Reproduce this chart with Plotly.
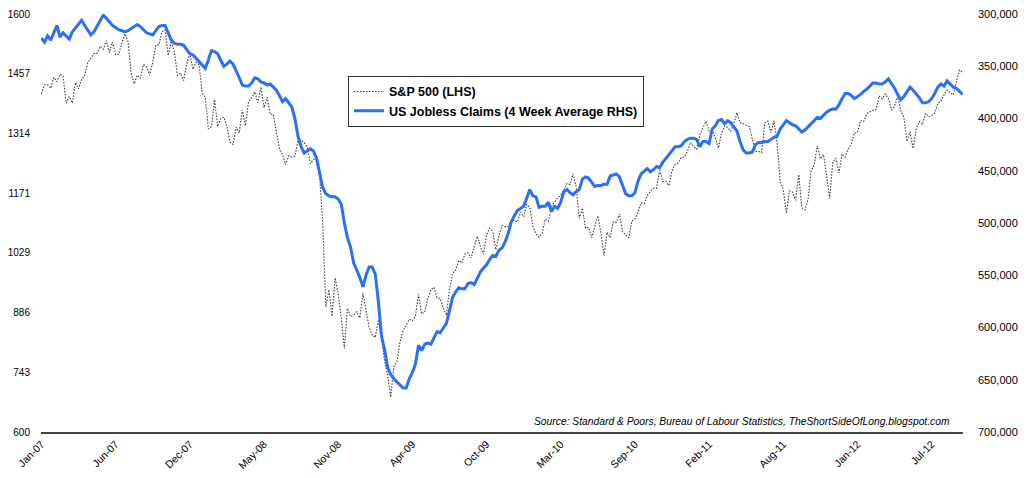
import pandas as pd
import plotly.graph_objects as go

# Weekly dates (Fridays), Jan-2007 .. Sep-2012
dates = pd.date_range("2007-01-05", periods=299, freq="W-FRI")

sp500 = [
    # 2007
    1409.7, 1430.7, 1430.5, 1422.2, 1448.4, 1438.1, 1455.5, 1451.2, 1387.2, 1402.8,
    1387.0, 1436.1, 1420.9, 1443.8, 1452.9, 1484.4, 1494.1, 1505.6, 1505.9, 1522.8,
    1515.7, 1536.3, 1507.7, 1532.9, 1502.6, 1503.4, 1530.4, 1552.5, 1534.1, 1459.0,
    1433.1, 1453.6, 1445.9, 1479.4, 1474.0, 1453.6, 1484.3, 1525.8, 1526.8, 1557.6,
    1561.8, 1500.6, 1535.3, 1509.7, 1453.7, 1458.7, 1440.7, 1481.1, 1504.7, 1468.0,
    1484.5, 1478.5,
    # 2008
    1411.6, 1401.0, 1325.2, 1330.6, 1395.4, 1331.3, 1350.0, 1353.1, 1330.6, 1293.4,
    1288.1, 1329.5, 1315.2, 1370.4, 1332.8, 1390.3, 1397.8, 1413.9, 1388.3, 1425.4,
    1375.9, 1400.4, 1360.7, 1360.0, 1317.9, 1278.4, 1262.9, 1239.5, 1260.7, 1257.8,
    1260.3, 1296.3, 1298.2, 1292.2, 1282.8, 1242.3, 1251.7, 1255.1, 1213.3, 1099.2,
    899.2, 940.6, 876.8, 968.8, 931.0, 873.3, 800.0, 896.2, 876.1, 879.7,
    887.9, 872.8,
    # 2009
    931.8, 890.4, 850.1, 832.0, 825.9, 868.6, 826.8, 770.1, 735.1, 683.4,
    756.6, 768.5, 815.9, 842.5, 856.6, 869.6, 866.2, 877.5, 929.2, 882.9,
    887.0, 919.1, 940.1, 946.2, 921.2, 918.9, 896.4, 879.1, 940.4, 979.3,
    987.5, 1010.5, 1004.1, 1026.1, 1028.9, 1016.4, 1042.7, 1068.3, 1044.4, 1025.2,
    1071.5, 1087.7, 1079.6, 1036.2, 1069.3, 1093.5, 1091.4, 1091.5, 1106.0, 1106.4,
    1102.5, 1126.5, 1115.1,
    # 2010
    1145.0, 1136.0, 1091.8, 1073.9, 1066.2, 1075.5, 1109.2, 1104.5, 1138.7, 1150.0,
    1159.9, 1166.6, 1178.1, 1194.4, 1192.1, 1217.3, 1186.7, 1110.9, 1135.7, 1087.7,
    1089.4, 1064.9, 1091.6, 1117.5, 1076.8, 1022.6, 1078.0, 1064.9, 1102.7, 1101.6,
    1121.6, 1079.3, 1071.7, 1064.6, 1104.5, 1109.6, 1125.6, 1148.7, 1146.2, 1165.2,
    1176.2, 1183.1, 1183.3, 1225.9, 1199.2, 1199.7, 1189.4, 1224.7, 1240.4, 1243.9,
    1256.8, 1257.6,
    # 2011
    1271.5, 1293.2, 1283.4, 1276.3, 1310.9, 1329.2, 1343.0, 1319.9, 1321.2, 1304.3,
    1279.2, 1313.8, 1332.4, 1328.2, 1319.7, 1337.4, 1363.6, 1340.2, 1337.8, 1333.3,
    1331.1, 1300.2, 1271.0, 1271.5, 1268.5, 1339.7, 1343.8, 1316.1, 1345.0, 1292.3,
    1199.4, 1178.8, 1123.5, 1176.8, 1174.0, 1154.2, 1216.0, 1136.4, 1131.4, 1155.5,
    1224.6, 1238.3, 1285.1, 1253.2, 1263.9, 1215.7, 1158.7, 1244.3, 1255.2, 1219.7,
    1265.3, 1257.6,
    # 2012
    1277.8, 1289.1, 1315.4, 1316.3, 1344.9, 1342.6, 1361.2, 1365.7, 1369.6, 1370.9,
    1404.2, 1397.1, 1408.5, 1398.1, 1370.3, 1378.5, 1403.4, 1369.1, 1353.4, 1295.2,
    1317.8, 1278.0, 1325.7, 1342.8, 1335.0, 1362.2, 1354.7, 1356.8, 1362.7, 1386.0,
    1391.0, 1405.9, 1418.2, 1411.1, 1406.6, 1437.9, 1465.8, 1460.2,
]

claims_k = [
    323, 327, 321, 325, 318, 311, 322, 318, 321, 324, 317, 313, 309, 306, 311, 316, 320, 317, 312, 306,
    301, 304, 308, 311, 313, 315, 316, 317, 316, 314, 312, 310, 312, 315, 318, 319, 320, 316, 312, 311,
    311, 318, 325, 328, 329, 329, 330, 334, 338, 339, 342, 345, 349, 352, 344, 335, 336, 338, 344, 350,
    348, 345, 348, 354, 361, 368, 369, 369, 366, 361, 362, 365, 366, 368, 367, 370, 373, 378, 384, 381,
    385, 389, 400, 417, 427, 433, 431, 429, 431, 438, 452, 466, 472, 474, 475, 475, 477, 482, 500, 514,
    523, 538, 545, 552, 561, 550, 542, 542, 549, 575, 608, 621, 638, 645, 649, 652, 655, 658, 658, 649,
    643, 635, 617, 622, 616, 615, 616, 610, 604, 605, 601, 596, 584, 571, 566, 562, 563, 563, 558, 557,
    559, 553, 547, 543, 540, 535, 531, 532, 526, 524, 518, 510, 499, 493, 488, 486, 484, 476, 468, 474,
    475, 485, 484, 484, 480, 489, 484, 486, 480, 470, 468, 471, 473, 470, 468, 458, 456, 457, 461, 465,
    464, 464, 463, 463, 455, 454, 453, 456, 464, 472, 474, 474, 471, 460, 453, 450, 448, 451, 449, 446,
    447, 442, 438, 434, 431, 427, 427, 426, 422, 420, 419, 419, 420, 427, 422, 422, 424, 410, 407, 402,
    401, 405, 402, 404, 408, 412, 422, 430, 433, 433, 432, 425, 423, 423, 422, 422, 420, 418, 417, 410,
    406, 402, 404, 406, 407, 410, 413, 411, 408, 405, 401, 399, 400, 397, 394, 392, 391, 391, 387, 381,
    376, 376, 378, 381, 379, 377, 374, 372, 369, 366, 366, 367, 367, 365, 362, 366, 371, 377, 382, 379,
    374, 370, 373, 376, 380, 385, 385, 384, 381, 376, 370, 367, 369, 364, 367, 370, 371, 374, 377,
]
claims = [v * 1000 for v in claims_k]

left_tickvals = [600, 742.857, 885.714, 1028.571, 1171.429, 1314.286, 1457.143, 1600]
left_ticktext = ["600", "743", "886", "1029", "1171", "1314", "1457", "1600"]
right_tickvals = [300000, 350000, 400000, 450000, 500000, 550000, 600000, 650000, 700000]
x_tick_labels = ["Jan-07", "Jun-07", "Dec-07", "May-08", "Nov-08", "Apr-09", "Oct-09",
                 "Mar-10", "Sep-10", "Feb-11", "Aug-11", "Jan-12", "Jul-12"]
x_tickvals = [dates[i * 24] for i in range(len(x_tick_labels))]

fig = go.Figure()
fig.add_trace(go.Scatter(
    x=dates, y=sp500, name="S&P 500 (LHS)", mode="lines",
    line=dict(color="#3c3c3c", width=1.1, dash="1.5px,1.5px"), yaxis="y",
))
fig.add_trace(go.Scatter(
    x=dates, y=claims, name="US Jobless Claims (4 Week Average RHS)", mode="lines",
    line=dict(color="#2a6ff5", width=3), yaxis="y2",
))

# page body has an 8px default margin, so the figure is sized to fit inside it
fig.update_layout(
    width=1018, height=470,
    margin=dict(l=33, r=63, t=6, b=46),
    paper_bgcolor="white", plot_bgcolor="white",
    font=dict(family="Liberation Sans", size=11, color="black"),
    showlegend=True,
    legend=dict(
        x=0.333, y=0.852, xanchor="left", yanchor="top",
        bgcolor="white", bordercolor="#333333", borderwidth=1,
        font=dict(family="Liberation Sans", size=12.5, color="black", weight="bold"),
        itemwidth=30, tracegroupgap=0,
    ),
    xaxis=dict(
        range=[dates[0] - pd.Timedelta(days=1), dates[-1] + pd.Timedelta(days=1)],
        tickmode="array", tickvals=x_tickvals, ticktext=x_tick_labels,
        tickangle=-45, tickfont=dict(size=10.5), showgrid=False, zeroline=False,
        showline=True, linecolor="#444444", linewidth=2, ticks="", automargin=False,
    ),
    yaxis=dict(
        range=[600, 1600], tickmode="array", tickvals=left_tickvals, ticktext=left_ticktext,
        showgrid=False, zeroline=False, showline=False, ticks="",
        tickfont=dict(size=10), ticklabelstandoff=10, automargin=False,
        ticklabeloverflow="allow",
    ),
    yaxis2=dict(
        range=[700000, 300000], overlaying="y", side="right",
        tickmode="array", tickvals=right_tickvals, tickformat=",",
        showgrid=False, zeroline=False, showline=False, ticks="",
        tickfont=dict(size=11), ticklabelstandoff=14, automargin=False,
        ticklabeloverflow="allow",
    ),
    annotations=[dict(
        xref="paper", yref="paper", x=0.988, y=0.026, xanchor="right", yanchor="middle",
        text="<i>Source: Standard & Poors, Bureau of Labour Statistics, TheShortSideOfLong.blogspot.com</i>",
        showarrow=False, font=dict(family="Liberation Sans", size=10.3, color="black"),
    )],
)

fig.write_html("out.html")
